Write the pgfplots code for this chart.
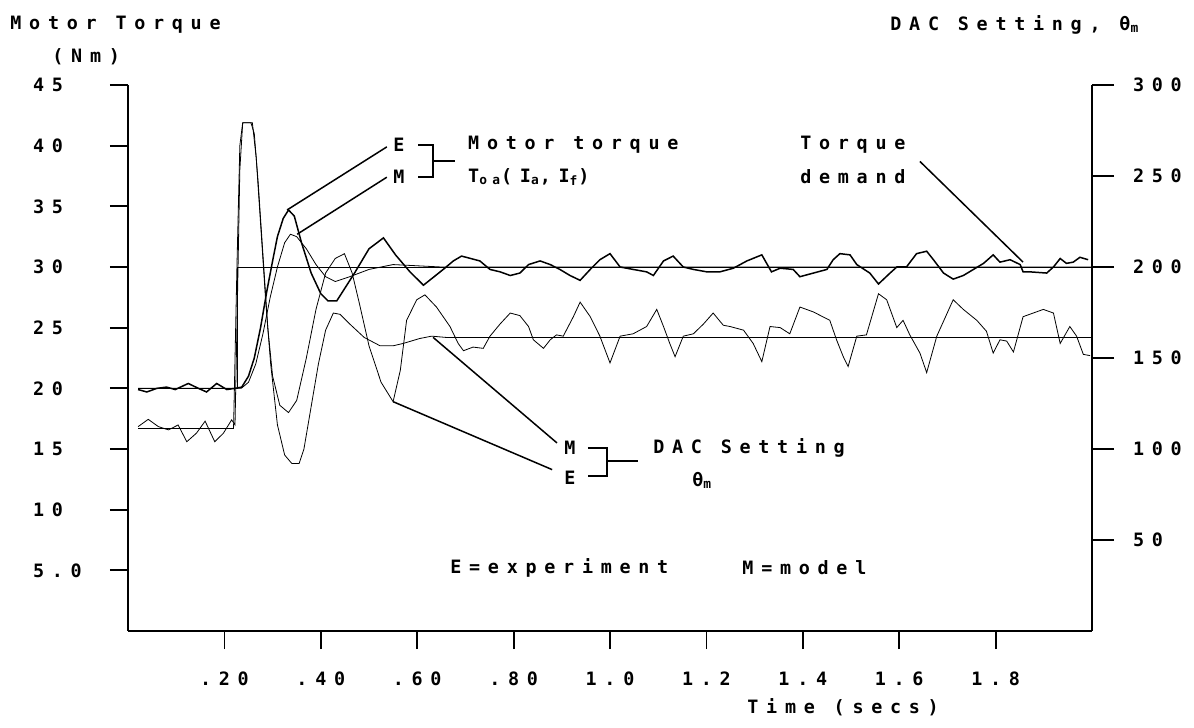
\documentclass[border=0pt]{standalone}
\usepackage{fontspec}
\usepackage{pgfplots}
\pgfplotsset{compat=1.18}
\newfontfamily\plt{DejaVu Sans Mono}[LetterSpace=42]
\newcommand\pf{\plt\bfseries\fontsize{9.2}{11}\selectfont}

\begin{document}
\begin{tikzpicture}
\useasboundingbox (0,0) rectangle (597pt,364pt);
\begin{axis}[
  at={(64pt,48.5pt)}, anchor=south west, scale only axis,
  width=482pt, height=273pt,
  xmin=0, xmax=2, ymin=0, ymax=45,
  axis x line*=bottom, axis y line*=left,
  axis line style={-, line width=0.9pt},
  tick align=outside, major tick length=9pt,
  tick style={line width=0.9pt, black},
  xtick={0.2,0.4,0.6,0.8,1.0,1.2,1.4,1.6,1.8},
  xticklabels={.20,.40,.60,.80,1.0,1.2,1.4,1.6,1.8},
  ytick={5,10,15,20,25,30,35,40,45},
  yticklabels={5.0,10,15,20,25,30,35,40,45},
  ticklabel style={font=\pf},
  yticklabel style={anchor=west, xshift=-42pt},
  xticklabel style={yshift=-8pt},
  clip=false,
  cycle list={{black, mark=none, line width=0.75pt}},
]
% torque demand
\addplot coordinates {(0.021,20) (0.226,20) (0.226,30) (2.0,30)};
% motor torque, model
\addplot coordinates {
(0.021,20) (0.235,20) (0.25,20.5) (0.265,22) (0.28,24.5) (0.295,27.5) (0.31,30)
(0.325,32) (0.337,32.7) (0.35,32.5) (0.37,31.5) (0.39,30.2) (0.41,29.2) (0.43,28.8)
(0.46,29.2) (0.50,29.8) (0.55,30.2) (0.60,30.1) (0.65,30.0) (2.0,30.0)};
% motor torque, experiment
\addplot coordinates {
(0.021,19.9) (0.039,19.7) (0.060,20.0) (0.080,20.1) (0.098,19.9) (0.125,20.4)
(0.146,20.0) (0.163,19.7) (0.184,20.4) (0.205,19.9) (0.222,20.0) (0.236,20.1)
(0.25,21.0) (0.262,22.5) (0.275,25.0) (0.288,28.0) (0.30,30.5) (0.31,32.5)
(0.322,34.0) (0.333,34.7) (0.345,34.2) (0.36,32.0) (0.38,29.5) (0.40,27.8)
(0.415,27.2) (0.433,27.2) (0.47,29.5) (0.50,31.5) (0.53,32.4) (0.555,31.0)
(0.585,29.6) (0.613,28.5) (0.654,29.8) (0.675,30.5) (0.692,30.9) (0.73,30.5)
(0.751,29.8) (0.772,29.6) (0.793,29.3) (0.813,29.5) (0.831,30.2) (0.855,30.5)
(0.876,30.2) (0.896,29.8) (0.917,29.3) (0.938,28.9) (0.959,29.8) (0.979,30.6)
(1.000,31.1) (1.021,30.0) (1.048,29.8) (1.076,29.6) (1.090,29.3) (1.111,30.5)
(1.131,30.9) (1.152,30.0) (1.173,29.8) (1.201,29.6) (1.228,29.6) (1.256,29.9)
(1.284,30.5) (1.315,31.0) (1.335,29.6) (1.353,29.9) (1.380,29.8) (1.394,29.2)
(1.422,29.5) (1.450,29.8) (1.463,30.6) (1.477,31.1) (1.498,31.0) (1.512,30.2)
(1.539,29.5) (1.557,28.6) (1.581,29.5) (1.595,30.0) (1.615,30.0) (1.636,31.1)
(1.657,31.3) (1.671,30.6) (1.692,29.5) (1.712,29.0) (1.733,29.3) (1.754,29.8)
(1.775,30.3) (1.795,31.0) (1.809,30.4) (1.830,30.6) (1.851,30.2) (1.857,29.6)
(1.871,29.6) (1.906,29.5) (1.920,30.0) (1.934,30.7) (1.947,30.3) (1.961,30.4)
(1.975,30.8) (1.992,30.6)};

% annotations
\begin{scope}[line width=0.75pt]
\draw (axis cs:0.537,39.9) -- (axis cs:0.330,34.7);
\draw (axis cs:0.537,37.4) -- (axis cs:0.351,32.7);
\draw (axis cs:0.602,40.07) -| (axis cs:0.633,37.43) -- (axis cs:0.602,37.43);
\draw (axis cs:0.633,38.75) -- (axis cs:0.678,38.75);
\draw (axis cs:1.643,38.7) -- (axis cs:1.857,30.4);
\draw (axis cs:0.890,15.5) -- (axis cs:0.633,24.2);
\draw (axis cs:0.880,13.3) -- (axis cs:0.550,18.9);
\draw (axis cs:0.954,15.09) -| (axis cs:0.994,12.78) -- (axis cs:0.954,12.78);
\draw (axis cs:0.994,14.01) -- (axis cs:1.058,14.01);
\end{scope}
\node[font=\pf, inner sep=0pt] at (axis cs:0.562,40.07) {E};
\node[font=\pf, inner sep=0pt] at (axis cs:0.562,37.43) {M};
\node[font=\pf, anchor=west, inner sep=0pt] at (axis cs:0.705,40.07) {Motor torque};
\node[font=\pf, anchor=west, inner sep=0pt] at (axis cs:0.705,37.43) {T\textsubscript{oa}(I\textsubscript{a},I\textsubscript{f})};
\node[font=\pf, anchor=west, inner sep=0pt] at (axis cs:1.394,40.07) {Torque};
\node[font=\pf, anchor=west, inner sep=0pt] at (axis cs:1.394,37.43) {demand};
\node[font=\pf, inner sep=0pt] at (axis cs:0.917,15.09) {M};
\node[font=\pf, inner sep=0pt] at (axis cs:0.917,12.61) {E};
\node[font=\pf, anchor=west, inner sep=0pt] at (axis cs:1.089,15.09) {DAC Setting};
\node[font=\pf, anchor=west, inner sep=0pt] at (axis cs:1.170,12.45) {θ\textsubscript{m}};
\node[font=\pf, anchor=west, inner sep=0pt] at (axis cs:0.668,5.19) {E=experiment};
\node[font=\pf, anchor=west, inner sep=0pt] at (axis cs:1.274,5.19) {M=model};
\end{axis}

\begin{axis}[
  at={(64pt,48.5pt)}, anchor=south west, scale only axis,
  width=482pt, height=273pt,
  xmin=0, xmax=2, ymin=0, ymax=300,
  axis x line=none, axis y line*=right,
  axis line style={-, line width=0.9pt},
  tick align=outside, major tick length=11pt,
  tick style={line width=0.9pt, black},
  ytick={50,100,150,200,250,300},
  yticklabels={50,100,150,200,250,300},
  ticklabel style={font=\pf},
  yticklabel style={anchor=west, xshift=6pt},
  cycle list={{black, mark=none, line width=0.75pt}},
]
% DAC setting, model
\addplot coordinates {
(0.021,111.3) (0.219,111.3) (0.226,200) (0.232,266.7) (0.238,279.3) (0.258,279.3)
(0.266,260) (0.276,220) (0.286,180) (0.296,146.7) (0.31,113.3) (0.325,96.7)
(0.34,92) (0.355,92) (0.365,100) (0.38,123.3) (0.395,146.7) (0.41,165.3)
(0.426,174.7) (0.44,174) (0.46,168.7) (0.49,161.3) (0.523,156.7) (0.55,156.7)
(0.571,158) (0.605,160.7) (0.63,162) (0.66,161.3) (2.0,161.3)};
% DAC setting, experiment
\addplot coordinates {
(0.021,112.3) (0.042,116.3) (0.063,112.3) (0.084,110.5) (0.104,113.2) (0.122,104.0)
(0.142,108.7) (0.160,115.3) (0.180,104.0) (0.198,108.7) (0.215,116.0) (0.222,113.3)
(0.226,166.7) (0.232,253.3) (0.238,279.3) (0.255,279.3) (0.262,273.3) (0.27,246.7)
(0.28,206.7) (0.29,166.7) (0.30,140) (0.315,124) (0.333,120) (0.35,126.7)
(0.37,150) (0.39,176.7) (0.41,196.7) (0.43,204.7) (0.449,207.3) (0.465,196.7)
(0.48,180) (0.50,156.7) (0.525,136.7) (0.550,126) (0.565,143.3) (0.578,170.7)
(0.599,182) (0.616,184.7) (0.640,178) (0.668,167.3) (0.685,158) (0.696,154)
(0.716,156) (0.737,155.3) (0.751,162) (0.772,168.7) (0.793,174.7) (0.813,173.3)
(0.831,167.3) (0.841,160) (0.862,155.3) (0.876,160) (0.889,162.7) (0.903,162)
(0.924,172.7) (0.938,180.7) (0.959,172.7) (0.979,162) (1.000,147.3) (1.021,162)
(1.048,163.3) (1.076,167.3) (1.097,176.7) (1.111,167.3) (1.124,158) (1.135,150.7)
(1.152,162) (1.173,163.3) (1.194,168.7) (1.214,174.7) (1.235,168) (1.249,167.3)
(1.277,165.3) (1.297,158) (1.315,148) (1.332,167.3) (1.353,166.7) (1.373,163.3)
(1.394,178) (1.422,175.3) (1.456,170.7) (1.470,160) (1.484,150.7) (1.494,145.3)
(1.512,162) (1.532,162.7) (1.557,185.3) (1.574,182) (1.595,166.7) (1.608,170.7)
(1.622,162.7) (1.643,152.7) (1.657,142) (1.678,162) (1.712,182) (1.733,176.7)
(1.761,170.7) (1.781,164.7) (1.795,152.7) (1.809,160) (1.823,159.3) (1.837,153.3)
(1.857,172.7) (1.899,176.7) (1.920,174.7) (1.934,158) (1.954,167.3) (1.968,162)
(1.982,152) (1.996,151.3)};
\end{axis}

\node[font=\pf, anchor=west, inner sep=0pt] at (5pt,351.5pt) {Motor Torque};
\node[font=\pf, anchor=west, inner sep=0pt] at (26pt,335.5pt) {(Nm)};
\node[font=\pf, anchor=west, inner sep=0pt] at (445pt,351.5pt) {DAC Setting, θ\textsubscript{m}};
\node[font=\pf, anchor=west, inner sep=0pt] at (373.5pt,10.5pt) {Time (secs)};
\end{tikzpicture}
\end{document}
